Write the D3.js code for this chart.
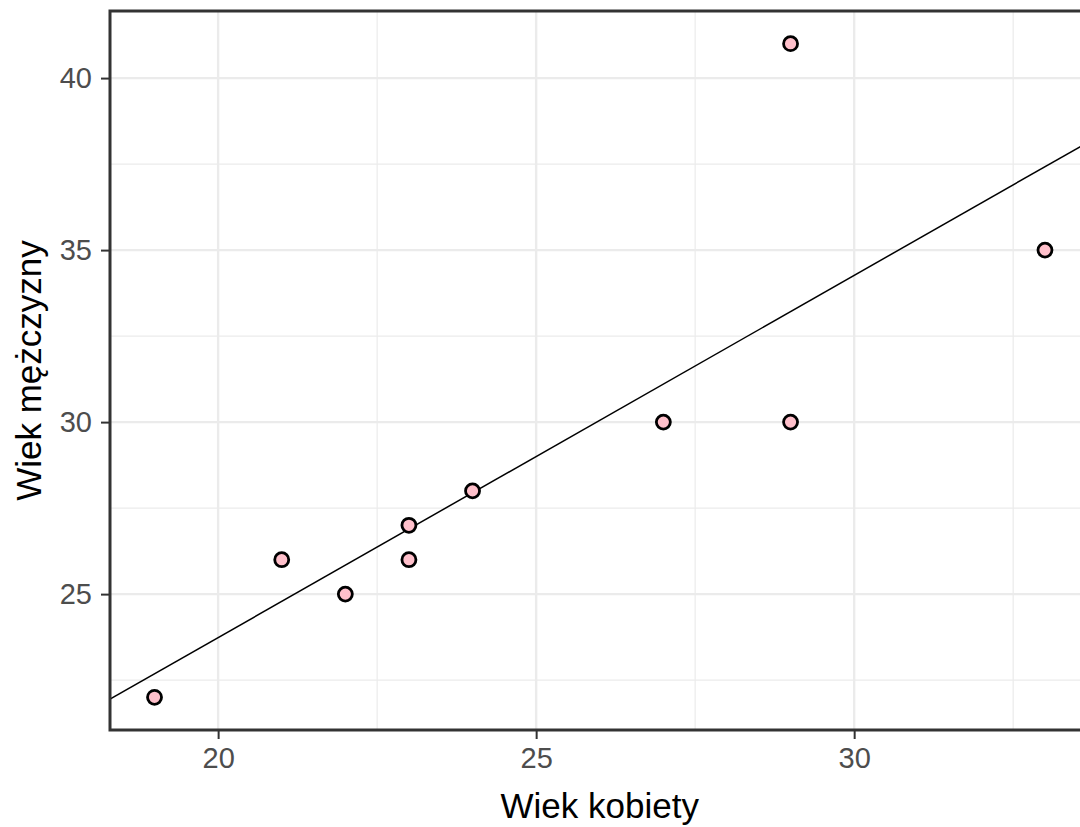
<!DOCTYPE html>
<html>
<head>
<meta charset="utf-8">
<script src="https://cdn.jsdelivr.net/npm/d3@7"></script>
<style>
  body { margin: 0; background: #fff; }
  svg { display: block; overflow: hidden; }
</style>
</head>
<body>
<div id="chart"></div>
<script>
// Ages of couples: woman (x) vs man (y)
const womanAge = [19, 21, 22, 23, 23, 24, 27, 29, 29, 33];
const manAge   = [22, 26, 25, 27, 26, 28, 30, 30, 41, 35];
const xTicks = [20, 25, 30];
const yTicks = [25, 30, 35, 40];
const xTitle = "Wiek kobiety";
const yTitle = "Wiek mężczyzny";

const width = 1080;
const height = 827;
const panel = { left: 110, right: 1089.5, top: 11, bottom: 730 };

const points = womanAge.map((w, i) => ({ x: w, y: manAge[i] }));

// ggplot-like 5% expansion
function expand(ext) {
  const pad = (ext[1] - ext[0]) * 0.05;
  return [ext[0] - pad, ext[1] + pad];
}

const x = d3.scaleLinear()
  .domain(expand(d3.extent(womanAge)))
  .range([panel.left, panel.right]);

const y = d3.scaleLinear()
  .domain(expand(d3.extent(manAge)))
  .range([panel.bottom, panel.top]);

// least squares fit (lm)
const mx = d3.mean(womanAge), my = d3.mean(manAge);
const slope = d3.sum(points, d => (d.x - mx) * (d.y - my)) / d3.sum(points, d => (d.x - mx) ** 2);
const intercept = my - slope * mx;

const svg = d3.select("#chart").append("svg")
  .attr("width", width)
  .attr("height", height)
  .style("font-family", "'Liberation Sans', Arial, sans-serif");

svg.append("defs").append("clipPath").attr("id", "clip")
  .append("rect")
  .attr("x", panel.left).attr("y", panel.top)
  .attr("width", panel.right - panel.left)
  .attr("height", panel.bottom - panel.top);

const grid = svg.append("g");

// minor grid
const xMinor = d3.range(17.5, 35, 5);
const yMinor = d3.range(22.5, 45, 5);
grid.selectAll(".xminor")
  .data(xMinor.filter(v => v > x.domain()[0] && v < x.domain()[1]))
  .join("line")
  .attr("x1", d => x(d)).attr("x2", d => x(d))
  .attr("y1", panel.top).attr("y2", panel.bottom)
  .attr("stroke", "#ebebeb").attr("stroke-width", 1.2);
grid.selectAll(".yminor")
  .data(yMinor.filter(v => v > y.domain()[0] && v < y.domain()[1]))
  .join("line")
  .attr("y1", d => y(d)).attr("y2", d => y(d))
  .attr("x1", panel.left).attr("x2", panel.right)
  .attr("stroke", "#ebebeb").attr("stroke-width", 1.2);

// major grid
grid.selectAll(".xmajor")
  .data(xTicks)
  .join("line")
  .attr("x1", d => x(d)).attr("x2", d => x(d))
  .attr("y1", panel.top).attr("y2", panel.bottom)
  .attr("stroke", "#ebebeb").attr("stroke-width", 2.4);
grid.selectAll(".ymajor")
  .data(yTicks)
  .join("line")
  .attr("y1", d => y(d)).attr("y2", d => y(d))
  .attr("x1", panel.left).attr("x2", panel.right)
  .attr("stroke", "#ebebeb").attr("stroke-width", 2.4);

// regression line
const xd = x.domain();
svg.append("line")
  .attr("clip-path", "url(#clip)")
  .attr("x1", x(xd[0])).attr("y1", y(intercept + slope * xd[0]))
  .attr("x2", x(xd[1])).attr("y2", y(intercept + slope * xd[1]))
  .attr("stroke", "#000")
  .attr("stroke-width", 1.5);

// points
svg.append("g")
  .selectAll("circle")
  .data(points)
  .join("circle")
  .attr("cx", d => x(d.x))
  .attr("cy", d => y(d.y))
  .attr("r", 7)
  .attr("fill", "#ffc0cb")
  .attr("stroke", "#000")
  .attr("stroke-width", 2.8);

// panel border
svg.append("rect")
  .attr("x", panel.left).attr("y", panel.top)
  .attr("width", panel.right - panel.left)
  .attr("height", panel.bottom - panel.top)
  .attr("fill", "none")
  .attr("stroke", "#333")
  .attr("stroke-width", 3);

// axes
const xAxis = svg.append("g")
  .attr("transform", `translate(0,${panel.bottom})`)
  .call(d3.axisBottom(x).tickValues(xTicks).tickSize(9).tickPadding(8));
const yAxis = svg.append("g")
  .attr("transform", `translate(${panel.left},0)`)
  .call(d3.axisLeft(y).tickValues(yTicks).tickSize(9).tickPadding(9));

[xAxis, yAxis].forEach(a => {
  a.select(".domain").remove();
  a.selectAll(".tick line").attr("stroke", "#333").attr("stroke-width", 2);
  a.selectAll(".tick text")
    .attr("fill", "#4d4d4d")
    .style("font-size", "29px")
    .style("font-family", "'Liberation Sans', Arial, sans-serif");
});

// titles
svg.append("text")
  .attr("x", (panel.left + panel.right) / 2)
  .attr("y", 818)
  .attr("text-anchor", "middle")
  .style("font-size", "35px")
  .attr("fill", "#000")
  .text(xTitle);

svg.append("text")
  .attr("transform", `translate(41,${(panel.top + panel.bottom) / 2}) rotate(-90)`)
  .attr("text-anchor", "middle")
  .style("font-size", "35px")
  .attr("fill", "#000")
  .text(yTitle);
</script>
</body>
</html>
